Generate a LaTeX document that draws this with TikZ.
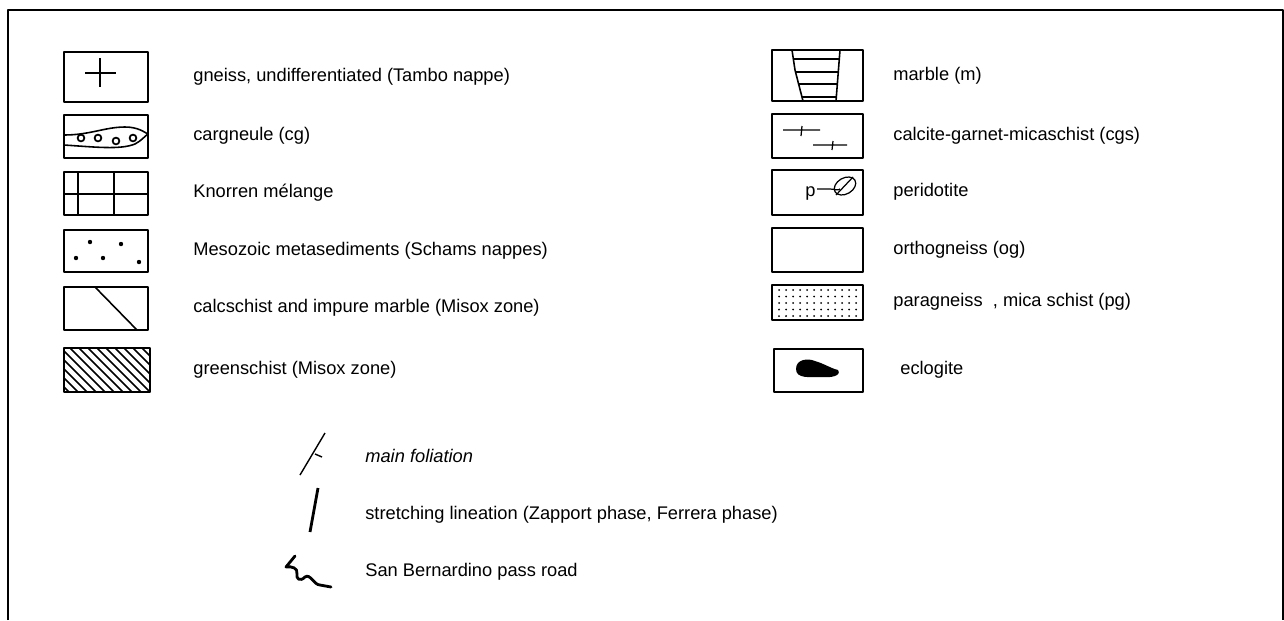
\documentclass[tikz,border=0pt]{standalone}
\usepackage{fontspec}
\setmainfont{Liberation Sans}

\tikzset{
  legbox/.style={draw, line width=1.1pt},
  legtext/.style={anchor=west, inner sep=0pt, font=\fontsize{10.4}{12}\selectfont,
    text height=7.5pt, text depth=2pt},
  symline/.style={line width=0.9pt},
}

\begin{document}
\begin{tikzpicture}[x=0.02cm, y=-0.02cm, line join=round]
\useasboundingbox (0,0) rectangle (1284,620);
\draw[line width=1pt] (8,620) -- (8,10) -- (1283,10) -- (1283,620);

% left column
\draw[legbox] (64,52) rectangle (148,102);
\draw[symline] (85,73) -- (116,73) (100,58) -- (100,87);
\node[legtext] (gneiss) at (193,77) {gneiss, undifferentiated (Tambo nappe)};

\draw[legbox] (64,115) rectangle (148,158);
\draw[symline] (64,135) .. controls (90,135) and (105,127) .. (125,127)
  .. controls (138,127) and (144,132) .. (148,134);
\draw[symline] (64,145) .. controls (95,147) and (120,150) .. (135,144)
  .. controls (141,141) and (145,136) .. (148,134);
\foreach \cx/\cy in {81/138, 98/138, 116/141, 133/138}
  \draw[line width=1pt] (\cx,\cy) circle (3.4);
\node[legtext] (cargneule) at (193,136) {cargneule (cg)};

\draw[legbox] (64,172) rectangle (148,215);
\draw[symline] (78,172) -- (78,215) (114,172) -- (114,215) (64,194) -- (148,194);
\node[legtext] (knorren) at (193,193) {Knorren mélange};

\draw[legbox] (64,230) rectangle (148,272);
\foreach \dx/\dy in {90/242, 121/244, 76/258, 103/258, 139/262}
  \fill (\dx,\dy) circle (2.2);
\node[legtext] (mesozoic) at (193,251) {Mesozoic metasediments (Schams nappes)};

\draw[legbox] (64,287) rectangle (148,330);
\draw[symline] (95,287) -- (137,330);
\node[legtext] (calcschist) at (193,308) {calcschist and impure marble (Misox zone)};

\begin{scope}
\clip (64,348) rectangle (150,392);
\foreach \i in {-48,-39,...,88}
  \draw[symline] (64+\i,348) -- ++(50,50);
\end{scope}
\draw[legbox] (64,348) rectangle (150,392);
\node[legtext] (greenschist) at (193,370) {greenschist (Misox zone)};

% right column
\draw[legbox] (772,50) rectangle (863,101);
\draw[symline] (792,50) -- (795,70) -- (803,101) (840,50) -- (836,101);
\draw[symline] (793,59) -- (839,59) (795,72) -- (838,72) (799,84) -- (838,84) (802,97) -- (837,97);
\node[legtext] (marble) at (893,76) {marble (m)};

\draw[legbox] (772,114) rectangle (863,158);
\draw[line width=0.7pt] (783,130) -- (820,130) (802,126) -- (801,136);
\draw[line width=0.7pt] (813,145) -- (847,145) (833,141) -- (832,150);
\node[legtext] (cgs) at (893,136) {calcite-garnet-micaschist (cgs)};

\draw[legbox] (772,170) rectangle (863,215);
\node[legtext] (ptext) at (805,192) {p};
\draw[line width=0.7pt] (817,189) -- (830,189) .. controls (834,189) and (838,191) .. (840,189);
\draw[line width=0.7pt, rotate around={30:(845,186)}] (845,186) ellipse [x radius=0.23cm, y radius=0.16cm];
\draw[line width=0.7pt] (836,195) -- (853,177);
\node[legtext] (peridotite) at (893,192) {peridotite};

\draw[legbox] (772,228) rectangle (863,272);
\node[legtext] (orthogneiss) at (893,250) {orthogneiss (og)};

\draw[legbox] (772,285) rectangle (863,320);
\foreach \r in {0,...,4}
  \foreach \c in {0,...,11}
    \fill (779+\c*7,290+\r*6.5) circle (1);
\node[legtext] (paragneiss) at (893,302) {paragneiss\ \ , mica schist (pg)};

\draw[legbox] (774,349) rectangle (863,392);
\fill (796,369) .. controls (796,359) and (808,358) .. (815,361)
  .. controls (825,364) and (830,368) .. (838,370)
  .. controls (842,376) and (830,378) .. (822,377)
  .. controls (810,377) and (796,379) .. (796,369) -- cycle;
\node[legtext] (eclogite) at (900,370) {eclogite};

% line symbols
\draw[line width=0.8pt] (300,475) -- (325,433) (315,454) -- (322,457);
\node[legtext] (foliation) at (365,458) {\itshape main foliation};

\draw[line width=1.6pt] (310,532) -- (318,488);
\node[legtext] (lineation) at (365,515) {stretching lineation (Zapport phase, Ferrera phase)};

\draw[line width=1.6pt, line cap=round] (295,556) -- (286,567) .. controls (292,566) and (298,568) .. (297,574)
  .. controls (296,579) and (300,582) .. (305,577) .. controls (310,573) and (314,585) .. (320,585) -- (331,587);
\node[legtext] (road) at (365,572) {San Bernardino pass road};
\end{tikzpicture}
\end{document}
